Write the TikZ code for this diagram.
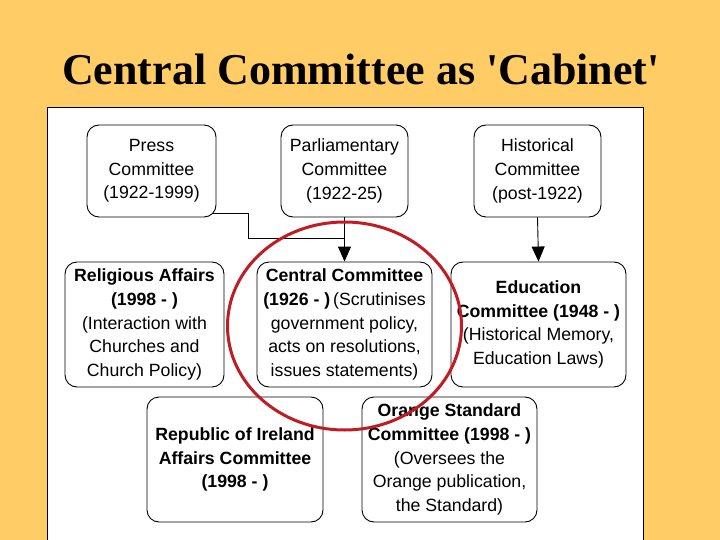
\documentclass[tikz,border=0pt]{standalone}
\usepackage{fontspec}
\setmainfont{Liberation Sans}
\newfontfamily\titlefont{Liberation Serif}
\usetikzlibrary{arrows.meta}
\definecolor{bgorange}{RGB}{255,204,102}
\definecolor{circred}{RGB}{192,28,36}
\tikzset{
  combox/.style={draw=black, line width=0.9pt, rounded corners=12pt, fill=white,
    align=center, inner sep=0pt, font=\fontsize{17.7}{23.6}\selectfont},
  conn/.style={draw=black, line width=0.9pt},
  arr/.style={conn, -{Triangle[length=15pt,width=13pt]}}
}
\begin{document}
\begin{tikzpicture}[x=1pt,y=-1pt]
\useasboundingbox (0,0) rectangle (720,540);
\fill[bgorange] (0,0) rectangle (720,540);
\node[font=\titlefont\bfseries\fontsize{44}{52}\selectfont, anchor=base] (title) at (361,85) {Central Committee as 'Cabinet'};
\draw[fill=white, line width=1pt] (47,545) -- (47,108) -- (643,108) -- (643,545);

\node[combox, minimum width=129pt, minimum height=92pt] (press) at (151.5,171) {Press\\Committee\\(1922-1999)};
\node[combox, minimum width=127pt, minimum height=92pt] (parl) at (344.5,171) {Parliamentary\\Committee\\(1922-25)};
\node[combox, minimum width=127pt, minimum height=92pt] (hist) at (537.5,171) {Historical\\Committee\\(post-1922)};

\node[combox, minimum width=159pt, minimum height=125pt] (relig) at (144.5,324.5) {\textbf{Religious Affairs}\\\textbf{(1998 - )}\\(Interaction with\\Churches and\\Church Policy)};
\node[combox, minimum width=175pt, minimum height=125pt] (central) at (344.5,324.5) {\textbf{Central Committee}\\\textbf{(1926 - )}\,(Scrutinises\\government policy,\\acts on resolutions,\\issues statements)};
\node[combox, minimum width=175pt, minimum height=125pt] (edu) at (538.5,324.5) {\textbf{Education}\\\textbf{Committee (1948 - )}\\(Historical Memory,\\Education Laws)};

\node[combox, minimum width=176pt, minimum height=125pt] (roi) at (235,459.5) {\textbf{Republic of Ireland}\\\textbf{Affairs Committee}\\\textbf{(1998 - )}};
\node[combox, minimum width=175pt, minimum height=125pt] (orange) at (449.5,459.5) {\textbf{Orange Standard}\\\textbf{Committee (1998 - )}\\(Oversees the\\Orange publication,\\the Standard)};

\coordinate (j) at (parl.south |- 0,238);
\coordinate (bend) at (248,238);
\draw[conn] (press.south east) ++(-3,-4) -| (bend) -- (j);
\draw[arr] (parl.south) -- (central.north);
\draw[arr] (hist.south) -- (edu.north);

\draw[circred, line width=3pt] (344.5,326) ellipse [x radius=117pt, y radius=104pt];
\end{tikzpicture}
\end{document}
